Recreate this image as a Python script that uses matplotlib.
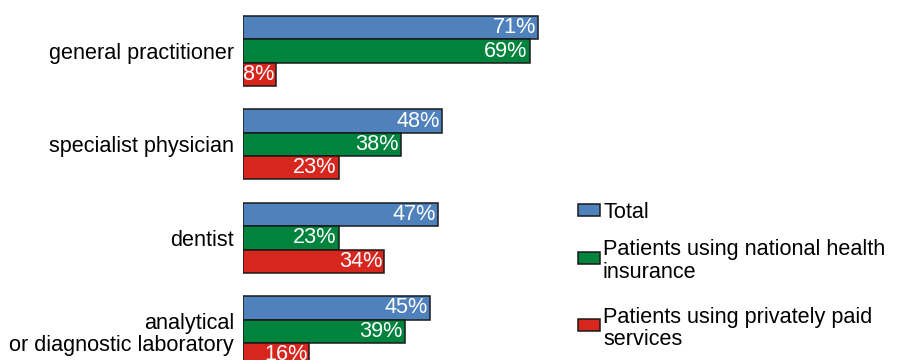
import matplotlib

matplotlib.use("Agg")
import matplotlib.pyplot as plt
from matplotlib.patches import Rectangle

plt.rcParams["font.family"] = ["Liberation Sans", "DejaVu Sans"]

categories = [
    "general practitioner",
    "specialist physician",
    "dentist",
    "analytical\nor diagnostic laboratory",
]
series_names = [
    "Total",
    "Patients using national health\ninsurance",
    "Patients using privately paid\nservices",
]
total = [71, 48, 47, 45]
national = [69, 38, 23, 39]
private = [8, 23, 34, 16]
colors = ["#4F81BD", "#00843D", "#D7261E"]

FS = 15.6
W, H = 898, 360

fig = plt.figure(figsize=(W / 100, H / 100), dpi=100)
ax = fig.add_axes([243 / W, 0, (560 - 243) / W, 1])

for i, (vals, color) in enumerate(zip([total, national, private], colors)):
    pos = [4 * g + i for g in range(len(categories))]
    ax.barh(pos, vals, height=1.0, color=color, edgecolor="#1a1a1a", linewidth=1.1)
    for p, v in zip(pos, vals):
        ax.annotate(f"{v}%", (v, p), xytext=(-1.5, 0), textcoords="offset points",
                    ha="right", va="center", color="white", fontsize=FS)

ax.set_yticks([4 * g + 1 for g in range(len(categories))])
ax.set_yticklabels(categories, fontsize=FS, linespacing=1.07, multialignment="right")
ax.tick_params(axis="y", length=0, pad=6.5)
ax.set_xticks([])
ax.set_xlim(0, (560 - 243) / 4.155)
ax.set_ylim(14.23, -1.185)
for s in ax.spines.values():
    s.set_visible(False)

# legend, drawn by hand so the squares line up with the first text line
leg_y = [210, 258, 325]
for name, color, y in zip(series_names, colors, leg_y):
    fig.patches.append(Rectangle((578 / W, 1 - (y + 6) / H), 22 / W, 12 / H,
                                 transform=fig.transFigure, facecolor=color,
                                 edgecolor="#1a1a1a", linewidth=1.1))
    fig.text(603 / W, 1 - y / H, name, fontsize=FS, va="center_baseline",
             ha="left", linespacing=1.07)

fig.savefig("out.png", dpi=100)
